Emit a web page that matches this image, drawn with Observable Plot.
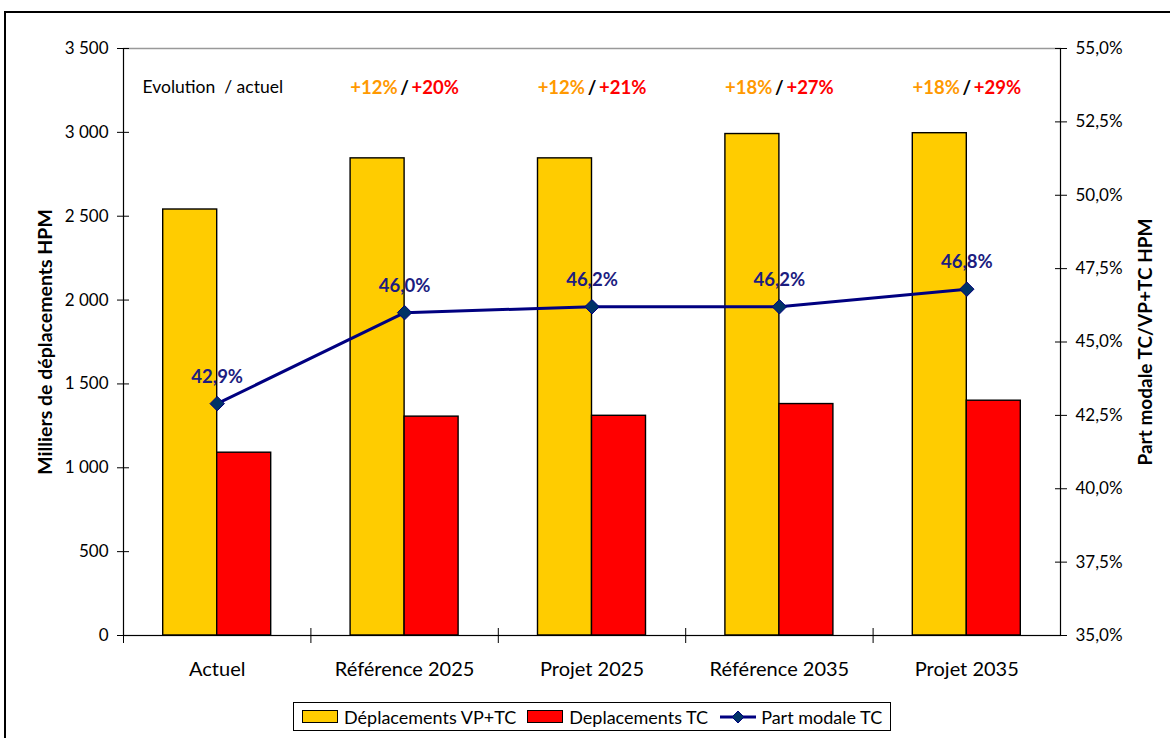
<!DOCTYPE html>
<html>
<head>
<meta charset="utf-8">
<script src="https://cdn.jsdelivr.net/npm/d3@7"></script>
<script src="https://cdn.jsdelivr.net/npm/@observablehq/plot@0.6"></script>
<style>
  html, body { margin: 0; padding: 0; background: #fff; }
  body { width: 1170px; height: 738px; position: relative; overflow: hidden; font-family: Lato, "Open Sans", sans-serif; }
  #outer { position: absolute; left: 4px; top: 11px; width: 1180px; height: 760px; border: 2px solid #000; box-sizing: border-box; pointer-events: none; }
  #chart { position: absolute; left: 0; top: 0; }
  #legend { position: absolute; left: 293px; top: 702px; width: 598px; height: 29px; box-sizing: border-box; border: 1px solid #000; display: flex; align-items: center; padding-left: 8px; font-size: 18px; color: #000; white-space: nowrap; }
  .sw { display: inline-block; width: 36px; height: 13px; border: 1.5px solid #000; box-sizing: border-box; margin-right: 6px; }
  .item { display: flex; align-items: center; margin-right: 11px; }
</style>
</head>
<body>
<div id="chart"></div>
<div id="legend"></div>
<div id="outer"></div>
<script>
// ---- data ----
const categories = ["Actuel", "Référence 2025", "Projet 2025", "Référence 2035", "Projet 2035"];
const deplacementsVPTC = [2540, 2845, 2845, 2990, 2995];
const deplacementsTC = [1090, 1305, 1310, 1380, 1400];
const partModaleTC = [42.9, 46.0, 46.2, 46.2, 46.8];
const evolutionVPTC = [null, "+12%", "+12%", "+18%", "+18%"];
const evolutionTC = [null, "+20%", "+21%", "+27%", "+29%"];
const leftTicks = [0, 500, 1000, 1500, 2000, 2500, 3000, 3500];
const rightTicks = [35, 37.5, 40, 42.5, 45, 47.5, 50, 52.5, 55];
const seriesNames = ["Déplacements VP+TC", "Deplacements TC", "Part modale TC"];

// ---- colours ----
const cYellow = "#FFCC00", cRed = "#FF0000", cNavy = "#000080", cOrange = "#FF9900";

// right axis (percent) mapped onto left axis domain
const leftMax = 3500, pMin = 35, pMax = 55;
const toLeft = p => (p - pMin) / (pMax - pMin) * leftMax;
const fromLeft = v => v / leftMax * (pMax - pMin) + pMin;
const fmtPct = p => p.toFixed(1).replace(".", ",") + "%";
const fmtThousands = d3.formatLocale({thousands: "\u00a0", grouping: [3], decimal: ","}).format(",d");

const rows = categories.map((c, i) => ({
  cat: c, vp: deplacementsVPTC[i], tc: deplacementsTC[i], pm: partModaleTC[i],
  pmY: toLeft(partModaleTC[i]), evVp: evolutionVPTC[i], evTc: evolutionTC[i]
}));
const evRows = rows.filter(r => r.evVp);

const W = 1170, H = 690, mL = 123, mR = 110, mT = 48, mB = 55;
const bw = (W - mL - mR) / categories.length;
const barW = 54;
const innerIn = bw / 2 - barW, outerIn = bw / 2;

const chart = Plot.plot({
  width: W, height: H,
  marginLeft: mL, marginRight: mR, marginTop: mT, marginBottom: mB,
  style: {fontFamily: "Lato, 'Open Sans', sans-serif", fontSize: "17px", color: "#000", background: "transparent"},
  x: {domain: categories, padding: 0, round: false},
  y: {domain: [0, leftMax], nice: false},
  marks: [
    Plot.barY(rows, {x: "cat", y: "vp", fill: cYellow, stroke: "#000", strokeWidth: 1.4, insetLeft: innerIn, insetRight: outerIn}),
    Plot.barY(rows, {x: "cat", y: "tc", fill: cRed, stroke: "#000", strokeWidth: 1.4, insetLeft: outerIn, insetRight: innerIn}),
    Plot.frame({stroke: "#000", strokeWidth: 1.2}),
    Plot.ruleY([leftMax], {stroke: "#999", strokeWidth: 1}),
    // left axis
    Plot.axisY(leftTicks, {anchor: "left", tickSize: 0, tickPadding: 15, tickFormat: fmtThousands, fontSize: 17, label: null}),
    Plot.axisY(leftTicks, {anchor: "left", tickSize: 12, dx: 6, tickFormat: () => "", label: null, stroke: "#000"}),
    // right axis
    Plot.axisY(rightTicks.map(toLeft), {anchor: "right", tickSize: 0, tickPadding: 15, tickFormat: d => fmtPct(fromLeft(d)), fontSize: 17, label: null}),
    Plot.axisY(rightTicks.map(toLeft), {anchor: "right", tickSize: 12, dx: -6, tickFormat: () => "", label: null, stroke: "#000"}),
    // x axis
    Plot.axisX(categories, {anchor: "bottom", tickSize: 0, tickPadding: 26, fontSize: 20, label: null}),
    Plot.axisX(categories, {anchor: "bottom", tickSize: 15, dy: -7, dx: -bw / 2, tickFormat: () => "", label: null, stroke: "#000"}),
    // axis titles
    Plot.text(["Milliers de déplacements HPM"], {text: d => d, frameAnchor: "left", textAnchor: "middle", dx: -78, rotate: -90, fontWeight: "bold", fontSize: 19.5}),
    Plot.text(["Part modale TC/VP+TC HPM"], {text: d => d, frameAnchor: "right", textAnchor: "middle", dx: 85, rotate: -90, fontWeight: "bold", fontSize: 19}),
    // evolution header
    Plot.text(["Evolution\u00a0 / actuel"], {text: d => d, frameAnchor: "top-left", dx: 19, dy: 32, textAnchor: "start", fontSize: 17.5}),
    Plot.text(evRows, {x: "cat", text: "evVp", frameAnchor: "top", dy: 32, dx: -7, textAnchor: "end", fill: cOrange, fontWeight: "bold", fontSize: 18.5}),
    Plot.text(evRows, {x: "cat", text: () => "/", frameAnchor: "top", dy: 32, fill: "#000", fontWeight: "bold", fontSize: 18.5}),
    Plot.text(evRows, {x: "cat", text: "evTc", frameAnchor: "top", dy: 32, dx: 7, textAnchor: "start", fill: cRed, fontWeight: "bold", fontSize: 18.5}),
    // part modale line
    Plot.line(rows, {x: "cat", y: "pmY", stroke: cNavy, strokeWidth: 3}),
    Plot.dot(rows, {x: "cat", y: "pmY", symbol: "diamond2", r: 6.5, fill: "#003366", stroke: cNavy, strokeWidth: 1}),
    Plot.text(rows, {x: "cat", y: "pmY", text: d => fmtPct(d.pm), dy: -27, fill: "#1c1c80", fontWeight: "bold", fontSize: 18.5})
  ]
});
document.getElementById("chart").appendChild(chart);

// legend
const legend = document.getElementById("legend");
legend.innerHTML = `
  <span class="item"><span class="sw" style="background:${cYellow}"></span>${seriesNames[0]}</span>
  <span class="item"><span class="sw" style="background:${cRed}"></span>${seriesNames[1]}</span>
  <span class="item"><svg width="38" height="16" style="margin-right:4px"><line x1="1" y1="8" x2="37" y2="8" stroke="${cNavy}" stroke-width="3"/><path d="M19,2 L25,8 L19,14 L13,8 Z" fill="#003366" stroke="${cNavy}" stroke-width="1"/></svg>${seriesNames[2]}</span>`;
</script>
</body>
</html>
